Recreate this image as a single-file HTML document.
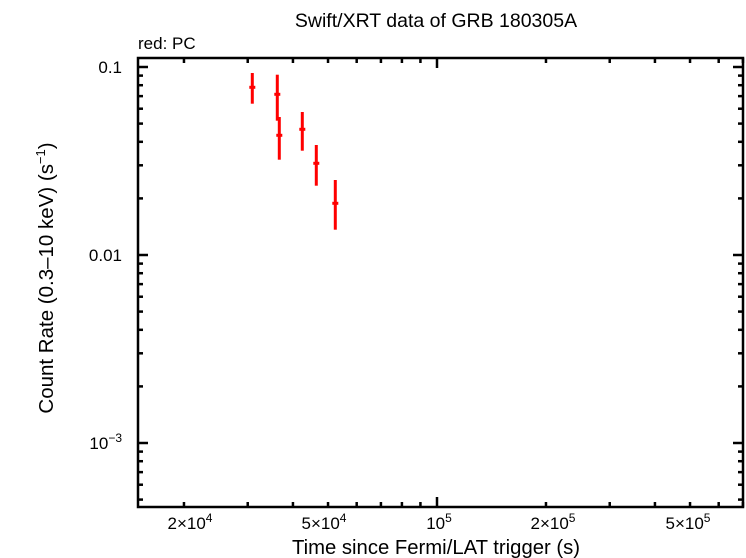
<!DOCTYPE html>
<html><head><style>
body{margin:0;background:#fff}
svg{display:block;font-family:"Liberation Sans",sans-serif}
</style></head><body>
<svg id="s" width="746" height="558" xmlns="http://www.w3.org/2000/svg">
<rect width="746" height="558" fill="#fff"/>
<text x="436" y="27" font-size="19.5" text-anchor="middle">Swift/XRT data of GRB 180305A</text>
<text x="138" y="49" font-size="17">red: PC</text>
<text x="436" y="554" font-size="20.3" text-anchor="middle">Time since Fermi/LAT trigger (s)</text>
<text transform="translate(53,278) rotate(-90)" font-size="20.5" text-anchor="middle">Count Rate (0.3–10 keV) (s<tspan font-size="13" dy="-8">−1</tspan><tspan dy="8">)</tspan></text>
<g font-size="17" text-anchor="end">
<text x="122" y="73">0.1</text>
<text x="122" y="261">0.01</text>
<text x="122" y="449">10<tspan font-size="12" dy="-7">−3</tspan></text>
</g>
<g font-size="17" text-anchor="middle">
<text x="190" y="529">2×10<tspan font-size="12" dy="-7">4</tspan></text>
<text x="324" y="529">5×10<tspan font-size="12" dy="-7">4</tspan></text>
<text x="439" y="529">10<tspan font-size="12" dy="-7">5</tspan></text>
<text x="553" y="529">2×10<tspan font-size="12" dy="-7">5</tspan></text>
<text x="688" y="529">5×10<tspan font-size="12" dy="-7">5</tspan></text>
</g>
<g id="ax" stroke="#000" stroke-width="2.5" fill="none"></g>
<g id="dat" stroke="#f00" stroke-width="3" fill="none"></g>
<rect x="138" y="58" width="605" height="449" fill="none" stroke="#000" stroke-width="2.5"/>
</svg>
<script>
var L=138,R=743,T=58,B=507;
function X(v){return 437+362*(Math.log10(v)-5);}
function Y(v){return 67-188*(Math.log10(v)+1);}
var s="";
for(var e=4;e<=5;e++)for(var m=1;m<10;m++){var v=m*Math.pow(10,e);var x=X(v);if(x<L||x>R)continue;var l=(m==1)?10:5;
s+='<line x1="'+x+'" y1="'+B+'" x2="'+x+'" y2="'+(B-l)+'"/><line x1="'+x+'" y1="'+T+'" x2="'+x+'" y2="'+(T+l)+'"/>';}
for(var e=-4;e<=-1;e++)for(var m=1;m<10;m++){var v=m*Math.pow(10,e);var y=Y(v);if(y<T||y>B)continue;var l=(m==1)?10:5;
s+='<line x1="'+L+'" y1="'+y+'" x2="'+(L+l)+'" y2="'+y+'"/><line x1="'+R+'" y1="'+y+'" x2="'+(R-l)+'" y2="'+y+'"/>';}
document.getElementById("ax").innerHTML=s;
var P=[[252.3,87.3,73,103.7],[277.3,94.3,74.7,120.7],[279.3,135.3,117,159.7],[302.3,129.3,112,150.7],[316.3,163.3,145,185.7],[335.3,203.3,180,229.7]];
var d="";
P.forEach(function(p){d+='<line x1="'+p[0]+'" y1="'+p[2]+'" x2="'+p[0]+'" y2="'+p[3]+'"/><line x1="'+(p[0]-3)+'" y1="'+p[1]+'" x2="'+(p[0]+3)+'" y2="'+p[1]+'"/>';});
document.getElementById("dat").innerHTML=d;
</script>
</body></html>
